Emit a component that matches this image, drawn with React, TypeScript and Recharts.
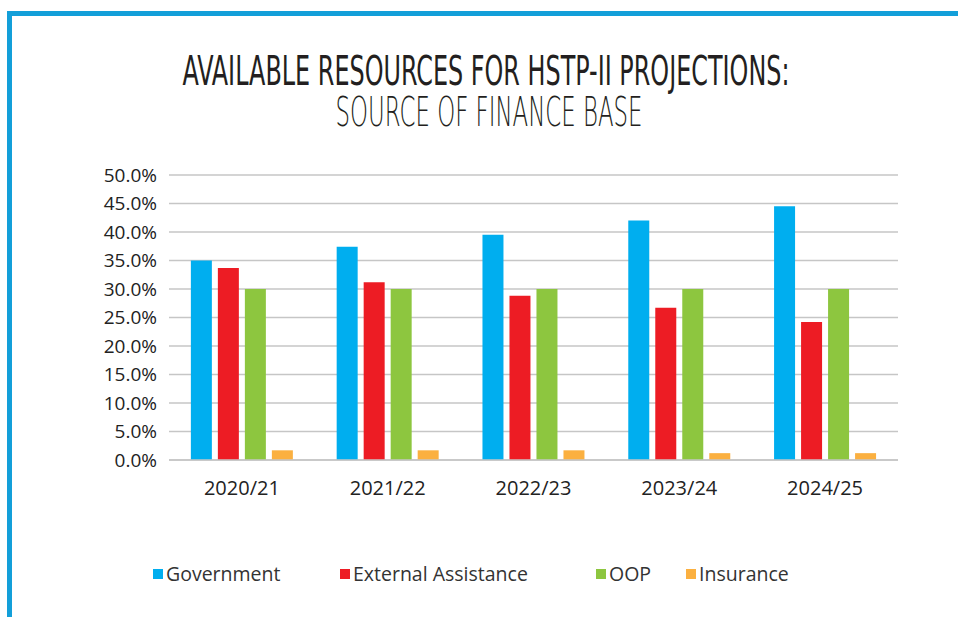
import {
  BarChart, Bar, XAxis, YAxis, CartesianGrid,
} from 'recharts'

const years = ['2020/21', '2021/22', '2022/23', '2023/24', '2024/25']
const government = [35.0, 37.4, 39.5, 42.0, 44.5]
const external = [33.7, 31.2, 28.8, 26.7, 24.2]
const oop = [30.0, 30.0, 30.0, 30.0, 30.0]
const insurance = [1.7, 1.7, 1.7, 1.2, 1.2]
const yTicks = [0, 5, 10, 15, 20, 25, 30, 35, 40, 45, 50]

const seriesNames = ['Government', 'External Assistance', 'OOP', 'Insurance']
const seriesKeys = ['gov', 'ext', 'oop', 'ins']
const seriesColors = ['#00aeef', '#ed1c24', '#8dc63f', '#fbb040']

// legend item left offsets (Excel spreads them unevenly)
const legendX = [153, 340, 596, 686]

const data = years.map((y, i) => ({
  year: y,
  gov: government[i],
  ext: external[i],
  oop: oop[i],
  ins: insurance[i],
}))

const font = '"Open Sans", sans-serif'

function LegendRow() {
  return (
    <div style={{ position: 'absolute', left: 0, top: 561, width: 958, height: 26 }}>
      {seriesNames.map((n, i) => (
        <div
          key={n}
          style={{
            position: 'absolute', left: legendX[i], top: 0,
            display: 'flex', alignItems: 'center', gap: 3,
            fontFamily: font, fontSize: 19.5, color: '#333', lineHeight: '26px',
          }}
        >
          <div style={{ width: 10, height: 10, background: seriesColors[i] }} />
          {n}
        </div>
      ))}
    </div>
  )
}

export default function App() {
  return (
    <div style={{ position: 'absolute', left: 0, top: 0, width: 958, height: 617, background: '#fff', overflow: 'hidden' }}>
      {/* frame */}
      <div style={{ position: 'absolute', left: 7, top: 11, width: 951, height: 5, background: '#139fd9' }} />
      <div style={{ position: 'absolute', left: 7, top: 11, width: 5, height: 606, background: '#139fd9' }} />

      <svg width={958} height={140} style={{ position: 'absolute', left: 0, top: 0 }}>
        <text
          x={486} y={85} textAnchor="middle" textLength={607} lengthAdjust="spacingAndGlyphs"
          fontFamily='"DejaVu Sans Condensed", "DejaVu Sans"' fontSize={41} fill="#231f20"
        >
          AVAILABLE RESOURCES FOR HSTP-II PROJECTIONS:
        </text>
        <text
          x={489} y={126} textAnchor="middle" textLength={307} lengthAdjust="spacingAndGlyphs"
          fontFamily='"DejaVu Sans"' fontWeight={200} fontSize={40} fill="#231f20"
        >
          SOURCE OF FINANCE BASE
        </text>
      </svg>

      <div style={{ position: 'absolute', left: 0, top: 0 }}>
        <BarChart
          width={958} height={617} data={data}
          margin={{ top: 175, right: 60, left: 0, bottom: 117 }}
          barCategoryGap="15%" barGap={6}
        >
          <CartesianGrid vertical={false} stroke="#c6c6c6" strokeWidth={1.5} />
          <XAxis
            dataKey="year" height={40} tickLine={false}
            axisLine={{ stroke: '#c6c6c6', strokeWidth: 1.5 }}
            tick={{ fill: '#222', fontSize: 20, fontFamily: font }}
            tickMargin={15}
          />
          <YAxis
            width={169} domain={[0, 50]} ticks={yTicks} interval={0}
            axisLine={false} tickLine={false} tickMargin={6}
            tick={{ fill: '#222', fontSize: 19, fontFamily: font }}
            tickFormatter={v => `${Number(v).toFixed(1)}%`}
          />
          {seriesKeys.map((k, i) => (
            <Bar key={k} dataKey={k} name={seriesNames[i]} fill={seriesColors[i]} isAnimationActive={false} />
          ))}
        </BarChart>
      </div>
      <LegendRow />
    </div>
  )
}
